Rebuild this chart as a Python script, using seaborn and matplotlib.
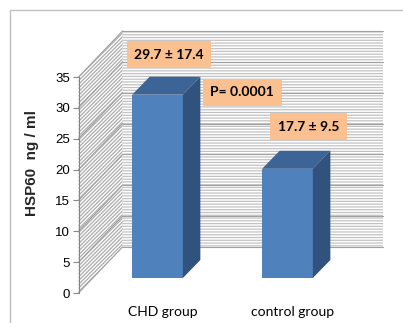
import matplotlib
matplotlib.use("Agg")
import matplotlib.pyplot as plt
from matplotlib import transforms
from matplotlib.patches import Polygon, Rectangle
import pandas as pd
import seaborn as sns

# Serum HSP60 by group
groups = ["CHD group", "control group"]
means = [29.7, 17.7]
sds = [17.4, 9.5]
p_text = "P= 0.0001"
y_ticks = [0, 5, 10, 15, 20, 25, 30, 35]

df = pd.DataFrame({"group": groups, "HSP60": means})

sns.set_theme(style="white")
plt.rcParams["font.family"] = ["Liberation Sans", "DejaVu Sans"]
plt.rcParams["hatch.linewidth"] = 0.9
LABEL_FONT = ["Lato", "Liberation Sans", "DejaVu Sans"]

W, H = 403, 323
fig = plt.figure(figsize=(W / 100, H / 100), dpi=100)
fig.patch.set_facecolor("white")
ax = fig.add_axes([78.5 / W, 30 / H, 260 / W, 216 / H])

FRONT = "#4F81BD"
TOP = "#3D6496"
SIDE = "#30527C"
BOX = "#FAC090"
GRID = "#A0A0A0"

sns.barplot(data=df, x="group", y="HSP60", width=0.39, color=FRONT,
            saturation=1, ax=ax, zorder=4, edgecolor="none")
ax.set_xlim(-0.5, 1.5)
ax.set_ylim(0, 35)
ax.set_facecolor("none")


def pix2data(dx, dy):
    x0, y0 = ax.transData.transform((0, 0))
    return ax.transData.inverted().transform((x0 + dx, y0 + dy))


# oblique depth of the plot box and of the bars (pixels -> data units)
DX, DY = pix2data(44, 46)
BX, BY = pix2data(17.5, 18)
bar_shift = transforms.offset_copy(ax.transData, fig=fig, x=14, y=15, units="dots")

x_l, x_r = -0.5, 1.5
y_top = y_ticks[-1]

# back wall with fine horizontal stripes
ax.add_patch(Rectangle((x_l + DX, DY), x_r - x_l, y_top, facecolor="white",
                       edgecolor="#C2C2C2", hatch="------", lw=0, zorder=0,
                       clip_on=False))
# side wall with diagonal stripes
ax.add_patch(Polygon([(x_l, 0), (x_l + DX, DY), (x_l + DX, y_top + DY), (x_l, y_top)],
                     closed=True, facecolor="white", edgecolor="#ABABAB",
                     hatch="/////////", lw=0, zorder=0, clip_on=False))
for v in y_ticks:
    ax.plot([x_l + DX, x_r + DX], [v + DY, v + DY], color=GRID, lw=0.8,
            zorder=1, clip_on=False)
    ax.plot([x_l, x_l + DX], [v, v + DY], color=GRID, lw=0.8, zorder=1,
            clip_on=False)

# give each bar a top and a side face
label_offsets = [(25.5, 55), (35, 57)]
for i, p in enumerate(ax.patches[:len(groups)]):
    p.set_transform(bar_shift)
    x0, w, h = p.get_x(), p.get_width(), p.get_height()
    ax.add_patch(Polygon([(x0, h), (x0 + w, h), (x0 + w + BX, h + BY), (x0 + BX, h + BY)],
                         closed=True, facecolor=TOP, edgecolor="none",
                         transform=bar_shift, zorder=4, clip_on=False))
    ax.add_patch(Polygon([(x0 + w, 0), (x0 + w + BX, BY), (x0 + w + BX, h + BY), (x0 + w, h)],
                         closed=True, facecolor=SIDE, edgecolor="none",
                         transform=bar_shift, zorder=4, clip_on=False))
    ax.annotate(f"{means[i]} ± {sds[i]}", xy=(x0 + w / 2, h), xycoords="data",
                xytext=label_offsets[i], textcoords="offset pixels",
                ha="center", va="center", fontsize=10, fontweight="bold",
                family=LABEL_FONT, color="black", zorder=6,
                annotation_clip=False,
                bbox=dict(boxstyle="square,pad=0.55", fc=BOX, ec="none"))

ax.text(0.758, 32.5, p_text, ha="center", va="center", fontsize=10,
        fontweight="bold", family=LABEL_FONT, color="black", zorder=6,
        clip_on=False,
        bbox=dict(boxstyle="square,pad=0.55", fc=BOX, ec="none"))

# axes styling
for side in ["top", "right", "bottom"]:
    ax.spines[side].set_visible(False)
ax.spines["left"].set_color("#868686")
ax.spines["left"].set_linewidth(0.8)
ax.set_yticks(y_ticks)
ax.tick_params(axis="y", left=True, length=4, width=0.8, color="#868686",
               labelsize=9.5, pad=2, labelcolor="black")
ax.tick_params(axis="x", bottom=False, labelsize=10, pad=3, labelcolor="black")
shift = transforms.ScaledTranslation(19 / 100, 0, fig.dpi_scale_trans)
for lab in ax.get_xticklabels():
    lab.set_transform(lab.get_transform() + shift)
    lab.set_family(LABEL_FONT)
ax.set_xlabel("")
ax.set_ylabel("HSP60  ng / ml", fontsize=11, fontweight="bold")
ax.yaxis.set_label_coords((39 - 78.5) / 260, (293 - 163) / 216)

# outer chart frame (open to the right and bottom)
fig.patches.append(Rectangle((10 / W, -0.1), 1.2, (H - 10) / H + 0.1,
                             transform=fig.transFigure, fill=False,
                             edgecolor="#BFBFBF", lw=1))

fig.savefig("out.png", dpi=100)
